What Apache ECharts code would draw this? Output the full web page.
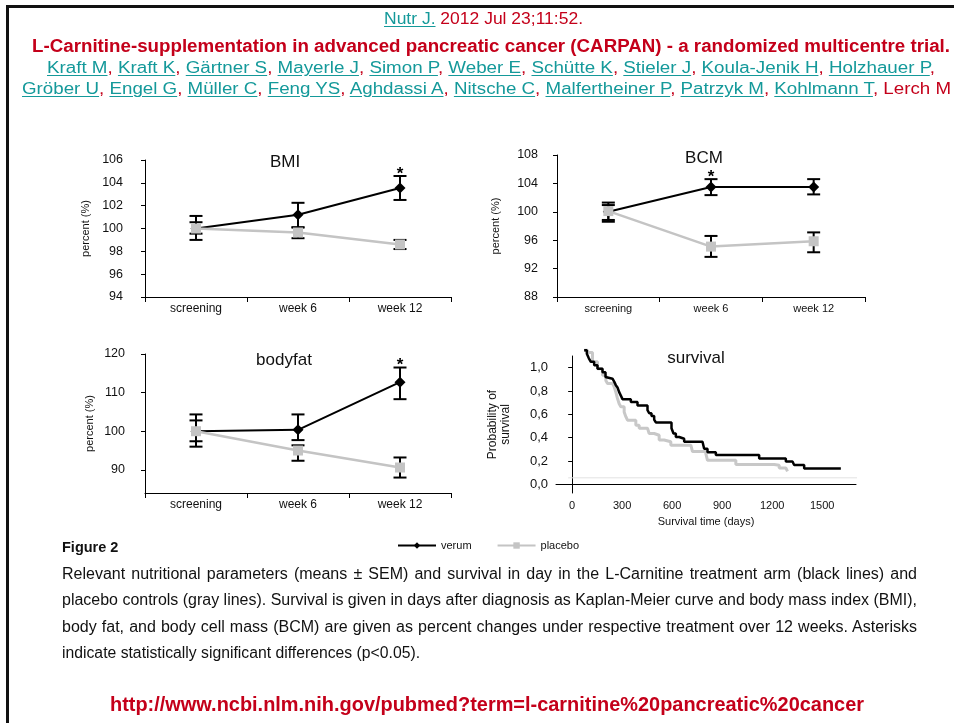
<!DOCTYPE html>
<html>
<head>
<meta charset="utf-8">
<title>CARPAN figure 2</title>
<script src="https://cdn.jsdelivr.net/npm/echarts@6/dist/echarts.min.js"></script>
<style>
  html, body { margin: 0; padding: 0; background: #fff; overflow: hidden; }
  body { width: 954px; height: 723px; position: relative; font-family: "Liberation Sans", Arial, sans-serif; }
  #frame { position: absolute; left: 6px; top: 5px; width: 960px; height: 730px;
           border-left: 3px solid #111; border-top: 3px solid #111; }
  #main { position: absolute; left: 0; top: 0; width: 954px; height: 723px; }
  .ln { position: absolute; white-space: nowrap; display: inline-block; transform-origin: 0 50%; z-index: 2; }
  .red { color: #c4001a; }
  .lnk { color: #14999a; text-decoration: underline; text-decoration-color: #14999a; text-underline-offset: 2px; }
  .cap { color: #111; }
</style>
</head>
<body>
<div id="frame"></div>
<div id="main"></div>

<span class="ln" id="l1" style="font-size:16px"><span class="lnk">Nutr J.</span><span class="red"> 2012 Jul 23;11:52.</span></span>
<span class="ln red" id="l2" style="font-size:18px;font-weight:bold">L-Carnitine-supplementation in advanced pancreatic cancer (CARPAN) - a randomized multicentre trial.</span>
<span class="ln" id="l3" style="font-size:16px"></span>
<span class="ln" id="l4" style="font-size:16px"></span>
<span class="ln cap" id="fig" style="font-size:14.5px;font-weight:bold">Figure 2</span>
<span class="ln cap" id="c1" style="font-size:16px">Relevant nutritional parameters (means ± SEM) and survival in day in the L-Carnitine treatment arm (black lines) and</span>
<span class="ln cap" id="c2" style="font-size:16px">placebo controls (gray lines). Survival is given in days after diagnosis as Kaplan-Meier curve and body mass index (BMI),</span>
<span class="ln cap" id="c3" style="font-size:16px">body fat, and body cell mass (BCM) are given as percent changes under respective treatment over 12 weeks. Asterisks</span>
<span class="ln cap" id="c4" style="font-size:16px">indicate statistically significant differences (p&lt;0.05).</span>
<span class="ln red" id="url" style="font-size:20px;font-weight:bold">http://www.ncbi.nlm.nih.gov/pubmed?term=l-carnitine%20pancreatic%20cancer</span>

<script type="text/javascript">
// ---- data ----
var categories = ['screening', 'week 6', 'week 12'];

var bmiVerum = [100, 101.2, 103.55];
var bmiVerumSem = [[99.0, 101.1], [100.1, 102.25], [102.5, 104.6]];
var bmiPlacebo = [100, 99.65, 98.6];
var bmiPlaceboSem = [[99.55, 100.55], [99.15, 100.1], [98.2, 99.0]];
var bmiSignificant = [0, 0, 1];

var bcmVerum = [100, 103.5, 103.5];
var bcmVerumSem = [[98.6, 101.3], [102.35, 104.6], [102.45, 104.6]];
var bcmPlacebo = [100.1, 95.1, 95.85];
var bcmPlaceboSem = [[98.85, 100.95], [93.65, 96.6], [94.3, 97.1]];
var bcmSignificant = [0, 1, 0];

var fatVerum = [100, 100.35, 112.7];
var fatVerumSem = [[96.0, 104.35], [97.7, 104.35], [108.3, 116.5]];
var fatPlacebo = [100, 95.0, 90.6];
var fatPlaceboSem = [[97.4, 102.8], [92.35, 96.35], [88.0, 93.2]];
var fatSignificant = [0, 0, 1];

// Kaplan-Meier steps: [day, probability after the step]
var survVerum = [[72, 1.15], [88, 1.12], [100, 1.08], [112, 1.05], [132, 1.02], [152, 0.99], [182, 0.96],
  [200, 0.92], [212, 0.905], [242, 0.895], [252, 0.88], [262, 0.85], [272, 0.83], [282, 0.79], [292, 0.76],
  [302, 0.73], [352, 0.705], [392, 0.675], [452, 0.635], [462, 0.61], [476, 0.585], [492, 0.555], [502, 0.53],
  [596, 0.48], [608, 0.435], [622, 0.405], [642, 0.39], [672, 0.365], [782, 0.35], [792, 0.305], [812, 0.275],
  [862, 0.25], [1122, 0.22], [1282, 0.195], [1322, 0.185], [1332, 0.165], [1392, 0.135], [1612, 0.13]];
var survPlacebo = [[72, 1.15], [92, 1.13], [122, 1.05], [152, 0.99], [182, 0.935], [202, 0.89], [212, 0.865],
  [242, 0.855], [252, 0.835], [262, 0.79], [272, 0.735], [282, 0.69], [292, 0.665], [312, 0.62], [322, 0.58],
  [332, 0.55], [382, 0.505], [402, 0.48], [452, 0.465], [462, 0.435], [492, 0.42], [522, 0.38], [552, 0.365],
  [592, 0.335], [712, 0.32], [722, 0.28], [802, 0.262], [812, 0.205], [982, 0.17], [1212, 0.163], [1242, 0.14],
  [1282, 0.134], [1292, 0.11]];
var survBaseline = [[-24, 0.055], [1764, 0.055]];
var survDayTicks = [0, 300, 600, 900, 1200, 1500];
var survProbTicks = [0, 0.2, 0.4, 0.6, 0.8, 1.0];
var fatTicks = [90, 100, 110, 120];

var authors1 = ['Kraft M', 'Kraft K', 'Gärtner S', 'Mayerle J', 'Simon P', 'Weber E', 'Schütte K', 'Stieler J', 'Koula-Jenik H', 'Holzhauer P'];
var authors2 = ['Gröber U', 'Engel G', 'Müller C', 'Feng YS', 'Aghdassi A', 'Nitsche C', 'Malfertheiner P', 'Patrzyk M', 'Kohlmann T'];

// ---- header / caption text ----
document.getElementById('l3').innerHTML = authors1.map(function (a) {
  return '<span class="lnk">' + a + '</span><span class="red">, </span>';
}).join('').replace(/, <\/span>$/, ',</span>');
document.getElementById('l4').innerHTML = authors2.map(function (a) {
  return '<span class="lnk">' + a + '</span><span class="red">, </span>';
}).join('') + '<span class="red">Lerch M</span>';

function place(id, left, cy, width, justify) {
  var el = document.getElementById(id);
  el.style.left = left + 'px';
  var r = el.getBoundingClientRect();
  el.style.top = (cy - r.height / 2) + 'px';
  if (!width) return;
  if (justify && r.width < width) {
    var spaces = (el.textContent.match(/ /g) || []).length;
    el.style.wordSpacing = ((width - r.width) / spaces) + 'px';
  } else {
    el.style.transform = 'scaleX(' + (width / r.width) + ')';
  }
}
place('l1', 384, 19, 199);
place('l2', 32, 46, 918);
place('l3', 47, 68, 888);
place('l4', 22, 89, 929);
place('fig', 62, 547, 0);
place('c1', 62, 574, 855, true);
place('c2', 62, 600, 855, true);
place('c3', 62, 627, 855, true);
place('c4', 62, 653, 358);
place('url', 110, 704, 754);

// ---- chart ----
var FONT = '"Liberation Sans", Arial, sans-serif';
var myChart = echarts.init(document.getElementById('main'));

function semData(sem, sig) {
  return sem.map(function (s, i) { return [i, s[0], s[1], sig ? sig[i] : 0]; });
}

function renderSem(params, api) {
  var x = api.value(0);
  var lo = api.coord([x, api.value(1)]);
  var hi = api.coord([x, api.value(2)]);
  var half = 6.5;
  var st = { stroke: '#000', lineWidth: 2 };
  var kids = [
    { type: 'line', shape: { x1: hi[0], y1: hi[1], x2: lo[0], y2: lo[1] }, style: st },
    { type: 'line', shape: { x1: hi[0] - half, y1: hi[1], x2: hi[0] + half, y2: hi[1] }, style: st },
    { type: 'line', shape: { x1: lo[0] - half, y1: lo[1], x2: lo[0] + half, y2: lo[1] }, style: st }
  ];
  if (api.value(3)) {
    kids.push({ type: 'text', x: hi[0], y: hi[1] - 2,
      style: { text: '*', font: 'bold 17px ' + FONT, fill: '#000', align: 'center', verticalAlign: 'middle' } });
  }
  return { type: 'group', children: kids };
}

function catX(idx) {
  return {
    type: 'category', gridIndex: idx, data: categories, boundaryGap: true,
    axisLine: { lineStyle: { color: '#000', width: 1 } },
    axisTick: { show: true, length: 5, lineStyle: { color: '#000' } },
    axisLabel: { color: '#111', fontSize: idx === 1 ? 11 : 12, margin: 6, fontFamily: FONT },
    splitLine: { show: false }
  };
}
function valY(idx, min, max, interval, gap, margin) {
  return {
    type: 'value', gridIndex: idx, min: min, max: max, interval: interval,
    name: 'percent (%)', nameLocation: 'middle', nameGap: gap,
    nameTextStyle: { color: '#111', fontSize: 11, fontFamily: FONT },
    axisLine: { show: true, lineStyle: { color: '#000', width: 1 } },
    axisTick: { show: true, length: 4, lineStyle: { color: '#000' } },
    axisLabel: { color: '#111', fontSize: 12.5, margin: margin, fontFamily: FONT },
    splitLine: { show: false }
  };
}

function verumLine(idx, data) {
  return { name: 'verum', type: 'line', xAxisIndex: idx, yAxisIndex: idx, data: data, z: 3,
    symbol: 'diamond', symbolSize: 11, color: '#000',
    lineStyle: { color: '#000', width: 2 }, itemStyle: { color: '#000' }, animation: false };
}
function placeboLine(idx, data) {
  return { name: 'placebo', type: 'line', xAxisIndex: idx, yAxisIndex: idx, data: data, z: 4,
    symbol: 'rect', symbolSize: 10, color: '#c4c4c4',
    lineStyle: { color: '#c4c4c4', width: 2.5 }, itemStyle: { color: '#c4c4c4' }, animation: false };
}
function semSeries(idx, sem, sig) {
  return { name: 'sem', type: 'custom', xAxisIndex: idx, yAxisIndex: idx, z: 2,
    renderItem: renderSem, data: semData(sem, sig), animation: false, silent: true };
}

function panelTitle(text, x, y) {
  return { type: 'text', x: x, y: y, z: 10,
    style: { text: text, font: '17px ' + FONT, fill: '#111', align: 'center', verticalAlign: 'middle' } };
}

var option = {
  animation: false,
  legend: {
    data: ['verum', 'placebo'], left: 397, top: 540, padding: 0,
    itemWidth: 38, itemHeight: 8, itemGap: 25,
    textStyle: { fontSize: 11, color: '#111', fontFamily: FONT }
  },
  graphic: [
    panelTitle('BMI', 285, 162),
    panelTitle('BCM', 704, 158),
    panelTitle('bodyfat', 284, 360),
    panelTitle('survival', 696, 358)
  ],
  grid: [
    { left: 145, top: 160, width: 306, height: 137 },
    { left: 557, top: 155, width: 308, height: 142 },
    { left: 145, top: 354, width: 306, height: 139 },
    { left: 556, top: 356, width: 300, height: 137 }
  ],
  xAxis: [
    catX(0), catX(1), catX(2),
    { type: 'value', gridIndex: 3, min: -97, max: 1703,
      name: 'Survival time (days)', nameLocation: 'middle', nameGap: 23,
      nameTextStyle: { color: '#111', fontSize: 11, fontFamily: FONT },
      axisLine: { lineStyle: { color: '#000' } },
      axisTick: { show: false },
      axisLabel: { customValues: survDayTicks, color: '#111', fontSize: 11, margin: 7, fontFamily: FONT,
        formatter: function (v) { return String(v); } },
      splitLine: { show: false } }
  ],
  yAxis: [
    valY(0, 94, 106, 2, 54, 22),
    valY(1, 88, 108, 4, 56, 19),
    (function () {
      var a = valY(2, 84, 120, null, 50, 20);
      delete a.interval;
      a.axisLabel.customValues = fatTicks;
      a.axisTick.customValues = fatTicks;
      return a;
    })(),
    { type: 'value', gridIndex: 3, min: -0.075, max: 1.1,
      name: 'Probability of\nsurvival', nameLocation: 'middle', nameGap: 44,
      nameTextStyle: { color: '#111', fontSize: 12, lineHeight: 13, fontFamily: FONT },
      axisLine: { show: true, lineStyle: { color: '#000' } },
      axisTick: { show: true, length: 4, customValues: survProbTicks, lineStyle: { color: '#000' } },
      axisLabel: { customValues: survProbTicks, color: '#111', fontSize: 13, margin: 8, fontFamily: FONT,
        formatter: function (v) { return v.toFixed(1).replace('.', ','); } },
      splitLine: { show: false } }
  ],
  series: [
    semSeries(0, bmiVerumSem, bmiSignificant), semSeries(0, bmiPlaceboSem),
    verumLine(0, bmiVerum), placeboLine(0, bmiPlacebo),

    semSeries(1, bcmVerumSem, bcmSignificant), semSeries(1, bcmPlaceboSem),
    verumLine(1, bcmVerum), placeboLine(1, bcmPlacebo),

    semSeries(2, fatVerumSem, fatSignificant), semSeries(2, fatPlaceboSem),
    verumLine(2, fatVerum), placeboLine(2, fatPlacebo),

    { name: 'baseline', type: 'line', xAxisIndex: 3, yAxisIndex: 3, data: survBaseline, clip: false,
      showSymbol: false, silent: true, lineStyle: { color: '#e2e2e2', width: 1 } },
    { name: 'placebo', type: 'line', xAxisIndex: 3, yAxisIndex: 3, data: survPlacebo, step: 'end',
      clip: false, showSymbol: false, z: 3, lineStyle: { color: '#c8c8c8', width: 3 } },
    { name: 'verum', type: 'line', xAxisIndex: 3, yAxisIndex: 3, data: survVerum, step: 'end',
      clip: false, showSymbol: false, z: 4, lineStyle: { color: '#000', width: 2.5 } }
  ]
};
myChart.setOption(option);
</script>
</body>
</html>
